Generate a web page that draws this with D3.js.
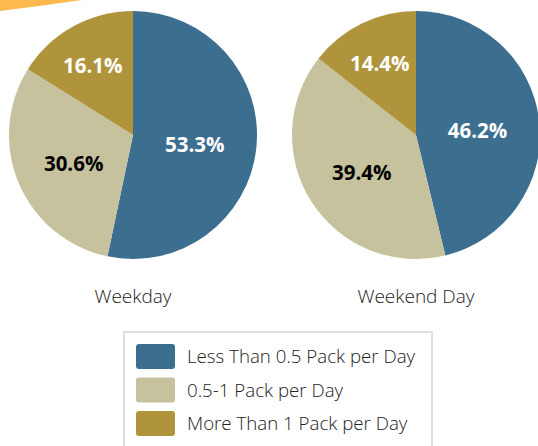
<!DOCTYPE html>
<html>
<head>
<meta charset="utf-8">
<script src="https://cdn.jsdelivr.net/npm/d3@7"></script>
<style>
  html, body { margin: 0; padding: 0; background: #fff; }
  svg { display: block; font-family: "Open Sans", sans-serif; }
</style>
</head>
<body>
<svg id="chart" width="538" height="446"></svg>
<script>
// Smoking intensity shares, weekday vs weekend day
const categories = ["Less Than 0.5 Pack per Day", "0.5-1 Pack per Day", "More Than 1 Pack per Day"];
const weekdayValues = [53.3, 30.6, 16.1];
const weekendValues = [46.2, 39.4, 14.4];
const panelTitles = ["Weekday", "Weekend Day"];
const sliceColors = ["#3c6e8f", "#c5c29d", "#b0943b"];
const labelColors = ["#ffffff", "#000000", "#ffffff"];

const svg = d3.select("#chart");

// decorative accent in the corner
svg.append("path")
  .attr("d", "M0,0 L82,0 Q40,6 0,11 Z")
  .attr("fill", "#fbb94e");

const color = d3.scaleOrdinal().domain(categories).range(sliceColors);
const textColor = d3.scaleOrdinal().domain(categories).range(labelColors);

const pie = d3.pie().sort(null).value(d => d.value);
const radius = 124;
const arc = d3.arc().innerRadius(0).outerRadius(radius);

// label anchor radius per category (fraction of radius)
const labelRadius = [0.5, 0.52, 0.67];

const panels = [
  { title: panelTitles[0], values: weekdayValues, cx: 133, cy: 135 },
  { title: panelTitles[1], values: weekendValues, cx: 416, cy: 135 }
];

panels.forEach(p => {
  const data = categories.map((c, i) => ({ cat: c, value: p.values[i], idx: i }));
  const g = svg.append("g").attr("transform", `translate(${p.cx},${p.cy})`);
  const arcs = pie(data);

  g.selectAll("path.slice")
    .data(arcs)
    .join("path")
    .attr("class", "slice")
    .attr("d", arc)
    .attr("fill", d => color(d.data.cat));

  g.selectAll("text.val")
    .data(arcs)
    .join("text")
    .attr("class", "val")
    .attr("transform", d => {
      const r = radius * labelRadius[d.data.idx];
      const a = (d.startAngle + d.endAngle) / 2;
      return `translate(${Math.sin(a) * r},${-Math.cos(a) * r + 3})`;
    })
    .attr("text-anchor", "middle")
    .attr("dy", "0.36em")
    .attr("font-size", 20.5)
    .attr("font-weight", 700)
    .attr("fill", d => textColor(d.data.cat))
    .text(d => d3.format(".1f")(d.data.value) + "%");

  svg.append("text")
    .attr("x", p.cx)
    .attr("y", 303)
    .attr("text-anchor", "middle")
    .attr("font-size", 19)
    .attr("font-weight", 300)
    .attr("fill", "#222")
    .text(p.title);
});

// legend
const legend = svg.append("g");
legend.append("rect")
  .attr("x", 124).attr("y", 332)
  .attr("width", 308).attr("height", 130)
  .attr("fill", "#fff")
  .attr("stroke", "#dedede")
  .attr("stroke-width", 2);

const rows = legend.selectAll("g.row")
  .data(categories)
  .join("g")
  .attr("class", "row")
  .attr("transform", (d, i) => `translate(136,${344 + i * 33.5})`);

rows.append("rect")
  .attr("width", 39).attr("height", 25)
  .attr("rx", 3)
  .attr("fill", d => color(d));

rows.append("text")
  .attr("x", 51).attr("y", 12.5)
  .attr("dy", "0.36em")
  .attr("font-size", 18.7)
  .attr("font-weight", 300)
  .attr("fill", "#222")
  .text(d => d);
</script>
</body>
</html>
